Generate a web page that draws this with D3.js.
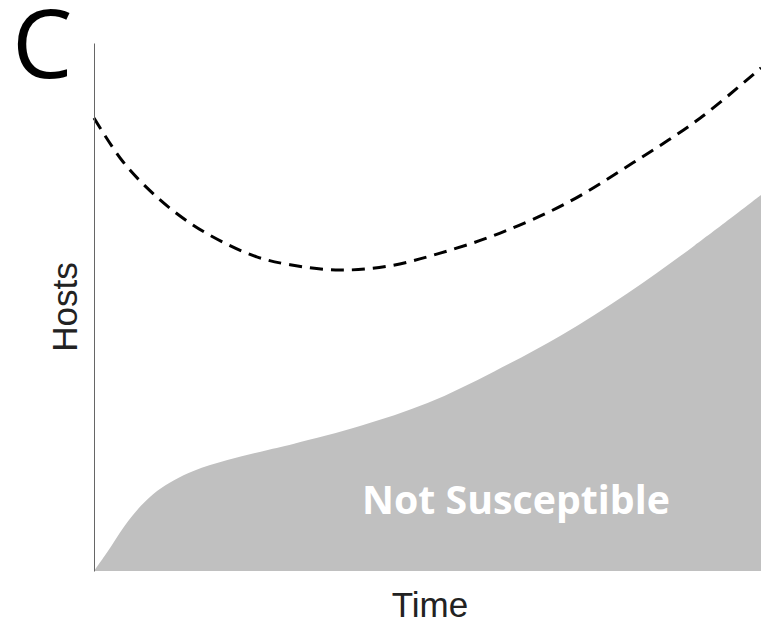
<!DOCTYPE html>
<html>
<head>
<meta charset="utf-8">
<script src="https://cdn.jsdelivr.net/npm/d3@7"></script>
<style>
  html, body { margin: 0; padding: 0; background: #fff; }
  svg { display: block; }
</style>
</head>
<body>
<svg id="chart" width="761" height="623"></svg>
<script>
// Time (0-100) and Hosts (0-100) values
const timeFill   = [0, 2, 4.5, 7, 9.5, 12, 15, 20, 25, 30, 40, 50, 60, 70, 80, 90, 100];
const notSuscept = [0, 3.6, 8.4, 12.3, 15.2, 17.2, 19.0, 21.0, 22.6, 24.1, 27.5, 31.8, 37.8, 44.6, 52.6, 61.6, 71.2];

const timeLine   = [0, 4.35, 9.45, 14.4, 19.3, 24.4, 29.4, 36.9, 44.4, 51.9, 60.9, 70.9, 80.8, 90.9, 100];
const totalHosts = [85.8, 77.5, 70.8, 65.9, 62.3, 59.5, 58.0, 57.0, 57.8, 60.2, 64.0, 69.7, 77.3, 85.8, 95.3];

const panelLabel = "C";
const xLabel = "Time";
const yLabel = "Hosts";
const areaLabel = "Not Susceptible";

const svg = d3.select("#chart");
const margin = {left: 94, right: 0, top: 43, bottom: 52};
const W = 761, H = 623;

const x = d3.scaleLinear().domain([0, 100]).range([margin.left, W - margin.right]);
const y = d3.scaleLinear().domain([0, 100]).range([H - margin.bottom, margin.top]);

const fillData = timeFill.map((t, i) => ({t, v: notSuscept[i]}));
const lineData = timeLine.map((t, i) => ({t, v: totalHosts[i]}));

const area = d3.area()
  .x(d => x(d.t)).y0(y(0)).y1(d => y(d.v))
  .curve(d3.curveCatmullRom.alpha(0.5));

svg.append("path").datum(fillData)
  .attr("d", area)
  .attr("fill", "#c0c0c0");

const line = d3.line().x(d => x(d.t)).y(d => y(d.v)).curve(d3.curveCatmullRom.alpha(0.5));
svg.append("path").datum(lineData)
  .attr("d", line)
  .attr("fill", "none")
  .attr("stroke", "#000")
  .attr("stroke-width", 3)
  .attr("stroke-dasharray", "13,8");

// y axis (line only)
const yAxis = svg.append("g")
  .attr("transform", `translate(${margin.left},0)`)
  .call(d3.axisLeft(y).tickValues([]).tickSizeOuter(0));
yAxis.select(".domain").attr("stroke", "#666").attr("stroke-width", 1);

// labels
svg.append("text")
  .attr("x", 77).attr("y", 307)
  .attr("transform", `rotate(-90, 77, 307)`)
  .attr("text-anchor", "middle")
  .attr("font-family", "Liberation Sans, Arial, sans-serif")
  .attr("font-size", 35)
  .attr("fill", "#222")
  .text(yLabel);

svg.append("text")
  .attr("x", 430).attr("y", 617)
  .attr("text-anchor", "middle")
  .attr("font-family", "Liberation Sans, Arial, sans-serif")
  .attr("font-size", 35)
  .attr("fill", "#222")
  .text(xLabel);

const ns = svg.append("text")
  .attr("x", 362).attr("y", 514)
  .attr("font-family", "Open Sans, sans-serif")
  .attr("font-weight", "bold")
  .attr("font-size", 38)
  .attr("fill", "#fff")
  .text(areaLabel);
// fit measured width
const nsW = ns.node().getComputedTextLength();
ns.attr("font-size", 38 * 308 / nsW);

svg.append("text")
  .attr("x", 12).attr("y", 78)
  .attr("font-family", "Open Sans, sans-serif")
  .attr("font-size", 96)
  .attr("fill", "#000")
  .text(panelLabel);
</script>
</body>
</html>
